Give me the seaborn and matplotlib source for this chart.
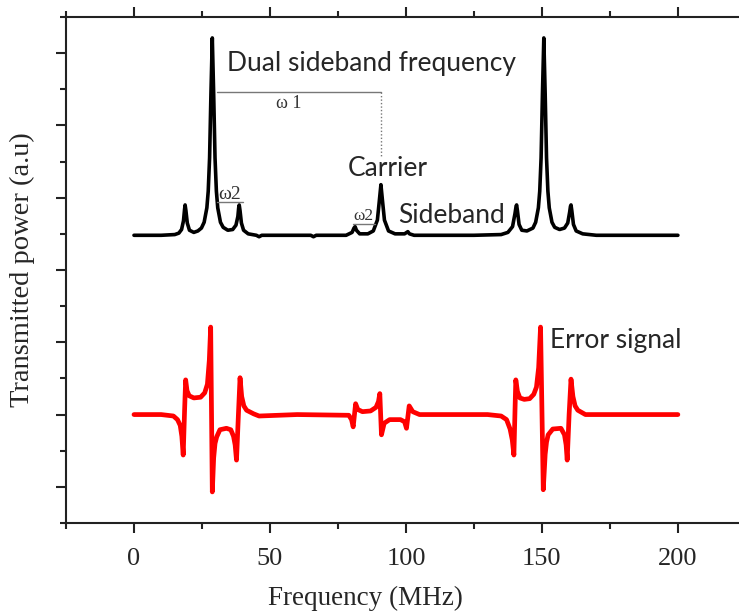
# Transmissie- en foutsignaal (PDH) plot
import pandas as pd
import seaborn as sns
import matplotlib.pyplot as plt
from matplotlib.ticker import MultipleLocator, NullFormatter

sns.set_style("ticks")
plt.rcParams['font.family'] = ['Liberation Serif', 'DejaVu Serif']

# Transmitted power (zwarte lijn)
freq_trans = [0, 10, 15, 16.5, 17.5, 18.2, 18.6, 18.8, 19.1, 19.6, 20.4, 22, 23.5,
              24.8, 25.8, 26.8, 27.3, 27.8, 28.3, 28.8, 29.3, 29.8, 30.3, 30.8, 31.8, 32.8,
              34.5, 36.3, 37.5, 38.2, 38.5, 38.7, 39.0, 39.5, 40.3, 42, 45, 46, 47,
              65, 66, 67, 78, 80.2, 80.9, 81.3, 81.8, 83, 86, 88, 89.5, 90.2, 90.8,
              91.4, 92.1, 93.6, 96, 99.5, 100.3, 100.7, 101.3, 103, 125, 135, 137.5,
              139.2, 140.1, 140.5, 140.7, 141.0, 141.6, 142.6, 144.5, 146.7, 147.7,
              148.7, 149.2, 149.7, 150.2, 150.7, 151.2, 151.7, 152.2, 152.7, 153.7,
              154.7, 156.5, 158.3, 159.5, 160.2, 160.5, 160.7, 161.0, 161.6, 162.6,
              165, 170, 200]
power_trans = [3.48, 3.48, 3.49, 3.51, 3.56, 3.68, 3.84, 3.90, 3.82, 3.65, 3.55, 3.52, 3.54,
               3.58, 3.66, 3.86, 4.09, 4.55, 5.44, 6.21, 5.44, 4.55, 4.09, 3.86, 3.66, 3.59,
               3.55, 3.56, 3.62, 3.74, 3.86, 3.90, 3.82, 3.65, 3.55, 3.50, 3.48, 3.46, 3.48,
               3.48, 3.46, 3.48, 3.48, 3.52, 3.58, 3.60, 3.55, 3.50, 3.50, 3.54, 3.69, 3.95, 4.18,
               3.95, 3.69, 3.54, 3.50, 3.50, 3.52, 3.53, 3.50, 3.48, 3.48, 3.49, 3.52,
               3.60, 3.78, 3.88, 3.90, 3.82, 3.63, 3.55, 3.54, 3.58, 3.66,
               3.86, 4.09, 4.55, 5.44, 6.21, 5.44, 4.55, 4.09, 3.86, 3.66,
               3.59, 3.56, 3.58, 3.65, 3.80, 3.88, 3.90, 3.82, 3.63, 3.54,
               3.50, 3.48, 3.48]

# Error signal (rode lijn)
freq_err = [0, 10, 14.5, 16, 17, 17.6, 18.1, 18.6, 19.0, 19.5, 20.3, 22, 24.5, 26, 27,
            27.7, 28.2, 28.8, 29.3, 29.8, 30.4, 31.6, 34, 35.6, 36.6, 37.2, 37.7, 38.4,
            39.0, 39.6, 40.4, 41.4, 44, 46, 60, 79, 80, 80.6, 81.5, 82.3, 84, 87, 89,
            89.9, 90.4, 91.0, 92, 94, 98, 99.5, 100.2, 101.2, 102.5, 105, 130, 135, 137,
            138.3, 139.1, 139.7, 140.1, 140.4, 141.0, 141.9, 143.5, 145.5, 147, 148,
            148.8, 149.5, 150.5, 151.2, 151.7, 152.3, 154, 157, 158.3, 158.9, 159.3,
            160.0, 160.7, 161.4, 162.2, 163.2, 166, 200]
power_err = [1.00, 1.00, 0.98, 0.93, 0.85, 0.70, 0.44, 1.05, 1.48, 1.33, 1.26, 1.23, 1.24, 1.30, 1.42,
             1.75, 2.21, -0.07, 0.40, 0.60, 0.69, 0.79, 0.81, 0.79, 0.70, 0.58, 0.37, 1.00,
             1.51, 1.25, 1.12, 1.06, 1.01, 0.98, 1.00, 0.99, 0.93, 0.83, 1.15, 1.07, 1.04, 1.05, 1.10,
             1.18, 1.29, 0.72, 0.88, 0.93, 0.93, 0.90, 0.81, 1.12, 1.04, 1.00, 1.00, 0.98, 0.93,
             0.80, 0.65, 0.44, 1.05, 1.48, 1.32, 1.23, 1.21, 1.22, 1.28, 1.38,
             1.65, 2.21, -0.04, 0.45, 0.62, 0.72, 0.80, 0.81, 0.72, 0.58, 0.37,
             1.00, 1.49, 1.25, 1.12, 1.06, 1.00, 1.00]

df_trans = pd.DataFrame({'freq': freq_trans, 'power': power_trans})
df_err = pd.DataFrame({'freq': freq_err, 'power': power_err})

fig = plt.figure(figsize=(7.39, 6.15), dpi=100)
ax = fig.add_axes([0.0893, 0.1496, 0.920, 0.8228])

sns.lineplot(data=df_trans, x='freq', y='power', ax=ax, color='black', lw=2.6,
             sort=False, estimator=None)
sns.lineplot(data=df_err, x='freq', y='power', ax=ax, color='#ff0000', lw=3.4,
             sort=False, estimator=None)

ax.set_xlim(-25, 225)
ax.set_ylim(-0.5, 6.5)
ax.xaxis.set_major_locator(MultipleLocator(50))
ax.xaxis.set_minor_locator(MultipleLocator(25))
ax.yaxis.set_major_locator(MultipleLocator(1))
ax.yaxis.set_minor_locator(MultipleLocator(0.5))
ax.yaxis.set_major_formatter(NullFormatter())
ax.tick_params(axis='x', which='both', top=True, direction='out', labelsize=19, pad=11)
ax.tick_params(which='major', length=7, width=1.5, color='#222222')
ax.tick_params(which='minor', length=4, width=1.5, color='#222222')
for s in ['left', 'bottom', 'top', 'right']:
    ax.spines[s].set_linewidth(1.5)
    ax.spines[s].set_color('#222222')

ax.set_xlabel('Frequency (MHz)', fontsize=19.5)
ax.xaxis.set_label_coords(0.44, -0.125)
ax.set_ylabel('Transmitted power (a.u)', fontsize=20.5)
ax.yaxis.set_label_coords(-0.045, 0.5)

# annotaties
ann = ['Lato', 'DejaVu Sans']
omega = ['Liberation Serif', 'DejaVu Serif']
ax.text(34.2, 5.86, 'Dual sideband frequency', family=ann, fontsize=19, va='center', ha='left')
ax.plot([30.5, 90.8], [5.46, 5.46], color='#777777', lw=1)
ax.plot([90.8, 90.8], [5.46, 4.56], color='#777777', lw=1, ls=(0, (1, 1.5)))
ax.text(57, 5.30, 'ω 1', family=omega, fontsize=13, ha='center', va='center', color='#333333')
ax.text(93.2, 4.41, 'Carrier', family=ann, fontsize=19, ha='center', va='center')
ax.plot([30.4, 40.2], [3.94, 3.94], color='#777777', lw=1)
ax.text(35.3, 4.04, 'ω2', family=omega, fontsize=14, ha='center', va='center', color='#333333')
ax.plot([80.5, 88.6], [3.64, 3.64], color='#777777', lw=1)
ax.text(84.3, 3.74, 'ω2', family=omega, fontsize=12.5, ha='center', va='center', color='#333333')
ax.text(97.0, 3.76, 'Sideband', family=ann, fontsize=19, ha='left', va='center')
ax.text(153.0, 2.03, 'Error signal', family=ann, fontsize=19, ha='left', va='center')

fig.savefig('out.png', dpi=100)
